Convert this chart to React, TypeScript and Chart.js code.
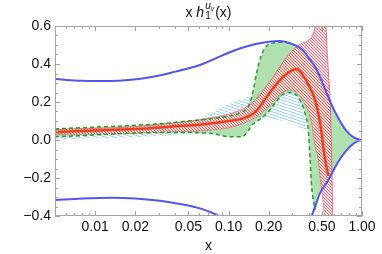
import React, { useEffect, useRef } from 'react';
import { Chart, registerables } from 'chart.js';

Chart.register(...registerables);

const FONT = '"Liberation Sans", Arial, Helvetica, sans-serif';

// x tick marks
const xMajorTicks = [0.01, 0.02, 0.05, 0.1, 0.2, 0.5, 1];
const xMinorTicks = [0.005, 0.006, 0.007, 0.008, 0.009, 0.03, 0.04, 0.06, 0.07, 0.08, 0.09, 0.3, 0.4, 0.6, 0.7, 0.8, 0.9];
const yMajorTicks = [-0.4, -0.2, 0, 0.2, 0.4, 0.6];
const yMinorTicks = [-0.35, -0.3, -0.25, -0.15, -0.1, -0.05, 0.05, 0.1, 0.15, 0.25, 0.3, 0.35, 0.45, 0.5, 0.55];

// Soffer bound (blue)
const blueUpperX = [0.005, 0.008, 0.013, 0.0258, 0.04, 0.061, 0.109, 0.16, 0.243, 0.3, 0.343, 0.374, 0.41, 0.445, 0.5, 0.56, 0.61, 0.684, 0.77, 0.86, 0.95, 1.0];
const blueUpperY = [0.321, 0.312, 0.31, 0.33, 0.36, 0.395, 0.47, 0.505, 0.521, 0.505, 0.485, 0.46, 0.42, 0.385, 0.31, 0.225, 0.165, 0.1, 0.045, 0.015, 0.003, 0];
const blueLowerX = [0.005, 0.008, 0.013, 0.02, 0.0344, 0.061, 0.082, 0.12, 0.2, 0.3, 0.38, 0.42, 0.485, 0.56, 0.61, 0.684, 0.768, 0.861, 0.95, 1.0];
const blueLowerY = [-0.316, -0.308, -0.304, -0.308, -0.325, -0.36, -0.395, -0.47, -0.56, -0.56, -0.48, -0.4, -0.28, -0.21, -0.16, -0.1, -0.053, -0.02, -0.003, 0];

// central curve (red)
const redX = [0.005, 0.01, 0.02, 0.0365, 0.0648, 0.1, 0.13, 0.16, 0.199, 0.257, 0.324, 0.353, 0.397, 0.445, 0.485, 0.528, 0.56];
const redY = [0.042, 0.05, 0.058, 0.07, 0.083, 0.1, 0.115, 0.15, 0.24, 0.333, 0.374, 0.35, 0.29, 0.21, 0.09, -0.1, -0.19];

// red hatched band
const redUpperX = [0.005, 0.02, 0.0365, 0.0648, 0.115, 0.15, 0.21, 0.257, 0.305, 0.345, 0.41, 0.44, 0.46, 0.49, 0.52, 0.535, 0.545, 0.56, 0.576, 0.586, 0.595, 0.61, 0.7];
const redUpperY = [0.055, 0.07, 0.088, 0.109, 0.149, 0.195, 0.32, 0.412, 0.475, 0.505, 0.535, 0.58, 0.66, 0.9, 0.9, 0.65, 0.5, 0.36, 0.21, 0.06, -0.15, -0.5, -0.8];
const redLowerX = [0.005, 0.02, 0.0365, 0.0648, 0.115, 0.16, 0.199, 0.25, 0.28, 0.324, 0.36, 0.385, 0.42, 0.445, 0.47, 0.485, 0.505, 0.528, 0.56, 0.7];
const redLowerY = [0.03, 0.036, 0.044, 0.05, 0.075, 0.12, 0.175, 0.246, 0.265, 0.25, 0.21, 0.17, 0.09, -0.03, -0.1, -0.19, -0.29, -0.42, -0.6, -0.8];

// green band (dashed edges)
const greenUpperX = [0.005, 0.0365, 0.0433, 0.07, 0.1, 0.125, 0.137, 0.145, 0.153, 0.163, 0.175, 0.19, 0.22, 0.257, 0.29];
const greenUpperY = [0.058, 0.09, 0.096, 0.11, 0.125, 0.145, 0.165, 0.2, 0.26, 0.36, 0.44, 0.49, 0.512, 0.515, 0.508];
const greenLowerX = [0.005, 0.0365, 0.0727, 0.1026, 0.1256, 0.1407, 0.15, 0.165, 0.18, 0.2, 0.223, 0.25, 0.281, 0.333, 0.374, 0.396, 0.408, 0.42, 0.445];
const greenLowerY = [0.017, 0.04, 0.035, 0.017, 0.017, 0.05, 0.08, 0.1, 0.12, 0.15, 0.193, 0.235, 0.25, 0.225, 0.14, 0.05, -0.1, -0.25, -0.37];

// light blue hatched band
const lbUpperX = [0.005, 0.02, 0.0433, 0.061, 0.077, 0.109, 0.153, 0.2, 0.28, 0.33, 0.36, 0.385];
const lbUpperY = [0.04, 0.06, 0.088, 0.11, 0.15, 0.2, 0.235, 0.25, 0.26, 0.23, 0.17, 0.055];
const lbLowerX = [0.005, 0.02, 0.0433, 0.07, 0.1, 0.15, 0.2, 0.26, 0.3, 0.35, 0.385];
const lbLowerY = [0.004, 0.015, 0.03, 0.05, 0.08, 0.12, 0.115, 0.1, 0.085, 0.065, 0.055];

const pts = (xs: number[], ys: number[]) => xs.map((x, i) => ({ x, y: ys[i] }));

function makePattern(w: number, h: number, bg: string | null, color: string, lw: number) {
  const c = document.createElement('canvas');
  c.width = w;
  c.height = h;
  const g = c.getContext('2d')!;
  if (bg) {
    g.fillStyle = bg;
    g.fillRect(0, 0, w, h);
  }
  g.strokeStyle = color;
  g.lineWidth = lw;
  for (const o of [-w, 0, w]) {
    g.beginPath();
    g.moveTo(o, 0);
    g.lineTo(o + w, h);
    g.stroke();
  }
  return g.createPattern(c, 'repeat')!;
}

function drawTitle(ctx: CanvasRenderingContext2D, cx: number, base: number) {
  const big = `14px ${FONT}`;
  const bigI = `italic 14px ${FONT}`;
  const sm = `10px ${FONT}`;
  const smI = `italic 10px ${FONT}`;
  const tiny = `italic 7px ${FONT}`;
  ctx.font = big;
  const wx = ctx.measureText('x ').width;
  const wp = ctx.measureText('(x)').width;
  ctx.font = bigI;
  const wh = ctx.measureText('h').width;
  ctx.font = sm;
  const w1 = ctx.measureText('1').width;
  ctx.font = smI;
  const wu = ctx.measureText('u').width;
  ctx.font = tiny;
  const wv = ctx.measureText('v').width;
  const ws = Math.max(w1, wu + wv) + 1;
  const total = wx + wh + 1 + ws + wp;
  let x = cx - total / 2;
  ctx.fillStyle = '#111';
  ctx.textBaseline = 'alphabetic';
  ctx.textAlign = 'left';
  ctx.font = big;
  ctx.fillText('x ', x, base);
  x += wx;
  ctx.font = bigI;
  ctx.fillText('h', x, base);
  x += wh + 1;
  ctx.font = sm;
  ctx.fillText('1', x, base + 2);
  ctx.font = smI;
  ctx.fillText('u', x, base - 8);
  ctx.font = tiny;
  ctx.fillText('v', x + wu, base - 6);
  x += ws;
  ctx.font = big;
  ctx.fillText('(x)', x, base);
}

const framePlugin = {
  id: 'frame',
  afterDatasetsDraw(chart: any) {
    const { ctx, chartArea: a, scales } = chart;
    const xs = scales.x;
    const ys = scales.y;
    ctx.save();
    ctx.strokeStyle = 'rgb(165,165,165)';
    ctx.lineWidth = 1;
    ctx.strokeRect(a.left + 0.5, a.top + 0.5, a.right - a.left - 1, a.bottom - a.top - 1);
    ctx.beginPath();
    const vt = (v: number, len: number) => {
      const p = Math.round(xs.getPixelForValue(v)) + 0.5;
      ctx.moveTo(p, a.bottom);
      ctx.lineTo(p, a.bottom - len);
      ctx.moveTo(p, a.top);
      ctx.lineTo(p, a.top + len);
    };
    const ht = (v: number, len: number) => {
      const p = Math.round(ys.getPixelForValue(v)) + 0.5;
      ctx.moveTo(a.left, p);
      ctx.lineTo(a.left + len, p);
      ctx.moveTo(a.right, p);
      ctx.lineTo(a.right - len, p);
    };
    xMajorTicks.forEach((v) => vt(v, 5));
    xMinorTicks.forEach((v) => vt(v, 3));
    yMajorTicks.forEach((v) => ht(v, 5));
    yMinorTicks.forEach((v) => ht(v, 3));
    ctx.stroke();
    drawTitle(ctx, (a.left + a.right) / 2, 17);
    ctx.font = `14px ${FONT}`;
    ctx.fillStyle = '#111';
    ctx.textAlign = 'center';
    ctx.textBaseline = 'alphabetic';
    ctx.fillText('x', (a.left + a.right) / 2, 250);
    ctx.restore();
  },
};

export default function App() {
  const ref = useRef<HTMLCanvasElement>(null);
  useEffect(() => {
    const canvas = ref.current!;
    const redPat = makePattern(3, 3, 'rgba(255,218,225,0.6)', 'rgba(222,60,80,0.75)', 1);
    const bluePat = makePattern(9, 3, null, 'rgba(130,195,238,0.85)', 1);

    const greenUpperFull = pts(greenUpperX, greenUpperY).concat(
      pts(blueUpperX, blueUpperY).filter((p) => p.x > 0.3)
    );
    const greenLowerFull = pts(greenLowerX, greenLowerY).concat(
      pts(blueLowerX, blueLowerY).filter((p) => p.x > 0.46)
    );

    const base = { pointRadius: 0, clip: 0, cubicInterpolationMode: 'monotone' };
    const hidden = { borderColor: 'rgba(0,0,0,0)', borderWidth: 0 };

    const datasets: any[] = [
      { ...base, ...hidden, data: pts(lbUpperX, lbUpperY), fill: '+1', backgroundColor: bluePat, order: 6 },
      { ...base, ...hidden, data: pts(lbLowerX, lbLowerY), fill: false, order: 6 },
      { ...base, ...hidden, data: greenUpperFull, fill: '+1', backgroundColor: 'rgba(150,212,150,0.75)', order: 5 },
      { ...base, ...hidden, data: greenLowerFull, fill: false, order: 5 },
      { ...base, data: pts(redUpperX, redUpperY), fill: '+1', backgroundColor: redPat, borderColor: 'rgba(225,95,115,0.85)', borderWidth: 1, order: 4 },
      { ...base, data: pts(redLowerX, redLowerY), fill: false, borderColor: 'rgba(225,95,115,0.85)', borderWidth: 1, order: 4 },
      { ...base, data: pts(greenUpperX, greenUpperY), fill: false, borderColor: 'rgb(40,155,40)', borderWidth: 1.5, borderDash: [4, 3], order: 3 },
      { ...base, data: pts(greenLowerX, greenLowerY), fill: false, borderColor: 'rgb(40,155,40)', borderWidth: 1.5, borderDash: [4, 3], order: 3 },
      { ...base, data: pts(redX, redY), fill: false, borderColor: 'rgb(245,60,30)', borderWidth: 2.5, order: 2 },
      { ...base, data: pts(blueUpperX, blueUpperY), fill: false, borderColor: 'rgb(85,85,238)', borderWidth: 2, order: 1 },
      { ...base, data: pts(blueLowerX, blueLowerY), fill: false, borderColor: 'rgb(85,85,238)', borderWidth: 2, order: 1 },
    ];

    const chart = new Chart(canvas, {
      type: 'line',
      data: { datasets },
      options: {
        animation: false,
        responsive: false,
        devicePixelRatio: 1,
        layout: { padding: { top: 26, right: 20, left: 0, bottom: 0 } },
        plugins: { legend: { display: false }, tooltip: { enabled: false }, title: { display: false } },
        scales: {
          x: {
            type: 'logarithmic',
            min: 0.005,
            max: 1,
            grid: { display: false, drawTicks: false },
            border: { display: false },
            ticks: {
              font: { family: FONT, size: 14 },
              color: '#111',
              padding: 3,
              autoSkip: false,
              maxRotation: 0,
              callback: (v: any) => Number(v).toFixed(2),
            },
            afterBuildTicks: (s: any) => {
              s.ticks = xMajorTicks.map((v) => ({ value: v }));
            },
            afterFit: (s: any) => {
              s.height = 38;
            },
          },
          y: {
            type: 'linear',
            min: -0.4,
            max: 0.6,
            grid: { display: false, drawTicks: false },
            border: { display: false },
            ticks: {
              stepSize: 0.2,
              font: { family: FONT, size: 14 },
              color: '#111',
              padding: 4,
              callback: (v: any) => {
                const r = Math.round(Number(v) * 10) / 10;
                return (r < 0 ? '\u2212' : '') + Math.abs(r).toFixed(1);
              },
            },
            afterFit: (s: any) => {
              s.width = 55;
            },
          },
        },
      } as any,
      plugins: [framePlugin],
    });
    return () => chart.destroy();
  }, []);
  return (
    <div style={{ position: 'absolute', left: 0, top: 0, width: 382, height: 254 }}>
      <canvas ref={ref} width={382} height={254} style={{ display: 'block', width: 382, height: 254 }} />
    </div>
  );
}
